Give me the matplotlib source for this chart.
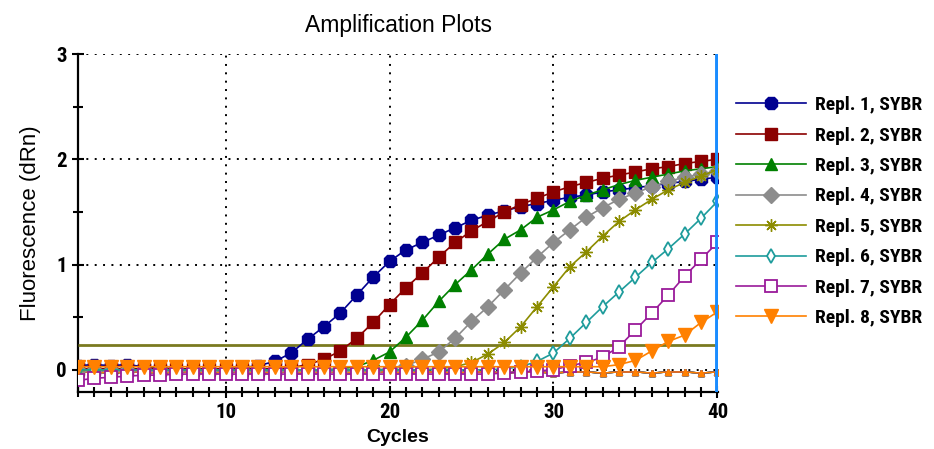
import matplotlib
matplotlib.use("Agg")
import matplotlib.pyplot as plt
from matplotlib.ticker import MultipleLocator

CYCLES = list(range(1, 41))

REPL1 = [0.04, 0.05, 0.04, 0.05, 0.03, 0.02, 0.01, 0.01, 0.01, 0.01,
         0.02, 0.04, 0.08, 0.16, 0.29, 0.41, 0.54, 0.71, 0.88, 1.03,
         1.14, 1.21, 1.28, 1.35, 1.42, 1.47, 1.51, 1.55, 1.58, 1.61,
         1.64, 1.66, 1.69, 1.71, 1.73, 1.75, 1.77, 1.79, 1.81, 1.83]
REPL2 = [0.01, 0.01, 0.01, 0.01, 0.01, 0.01, 0.01, 0.01, 0.01, 0.01,
         0.01, 0.01, 0.01, 0.02, 0.05, 0.10, 0.18, 0.30, 0.45, 0.62,
         0.78, 0.92, 1.07, 1.21, 1.32, 1.41, 1.50, 1.57, 1.63, 1.69,
         1.74, 1.78, 1.82, 1.85, 1.88, 1.91, 1.93, 1.96, 1.98, 2.00]
REPL3 = [0.00, 0.00, 0.00, 0.00, 0.00, 0.00, 0.00, 0.00, 0.00, 0.00,
         0.00, 0.00, 0.00, 0.00, 0.00, 0.00, 0.01, 0.03, 0.09, 0.17,
         0.31, 0.47, 0.65, 0.81, 0.95, 1.10, 1.24, 1.33, 1.45, 1.52,
         1.60, 1.66, 1.71, 1.76, 1.80, 1.83, 1.86, 1.89, 1.91, 1.93]
REPL4 = [0.00, 0.00, 0.00, 0.00, 0.00, 0.00, 0.00, 0.00, 0.00, 0.00,
         0.00, 0.00, 0.00, 0.00, 0.00, 0.00, 0.00, 0.00, 0.00, 0.01,
         0.04, 0.10, 0.17, 0.30, 0.46, 0.60, 0.76, 0.92, 1.07, 1.21,
         1.33, 1.45, 1.54, 1.62, 1.68, 1.74, 1.79, 1.83, 1.86, 1.89]
REPL5 = [0.00, 0.00, 0.00, 0.00, 0.00, 0.00, 0.00, 0.00, 0.00, 0.00,
         0.00, 0.00, 0.00, 0.00, 0.00, 0.00, 0.00, 0.00, 0.00, 0.00,
         0.00, 0.00, 0.01, 0.03, 0.07, 0.15, 0.26, 0.41, 0.60, 0.79,
         0.98, 1.12, 1.27, 1.41, 1.52, 1.62, 1.71, 1.78, 1.84, 1.90]
REPL6 = [0.00, 0.00, 0.00, 0.00, 0.00, 0.00, 0.00, 0.00, 0.00, 0.00,
         0.00, 0.00, 0.00, 0.00, 0.00, 0.00, 0.00, 0.00, 0.00, 0.00,
         0.00, 0.00, 0.00, 0.00, 0.00, 0.00, 0.01, 0.03, 0.08, 0.16,
         0.30, 0.45, 0.60, 0.74, 0.88, 1.02, 1.15, 1.29, 1.44, 1.60]
REPL7 = [-0.10, -0.08, -0.07, -0.06, -0.05, -0.05, -0.04, -0.04, -0.04, -0.04,
         -0.04, -0.04, -0.04, -0.04, -0.04, -0.04, -0.04, -0.04, -0.04, -0.04,
         -0.04, -0.04, -0.04, -0.04, -0.04, -0.04, -0.03, -0.02, -0.01, 0.00,
         0.04, 0.07, 0.12, 0.22, 0.38, 0.54, 0.71, 0.89, 1.05, 1.21]
REPL8 = [0.03, 0.03, 0.03, 0.03, 0.03, 0.03, 0.03, 0.03, 0.03, 0.03,
         0.03, 0.03, 0.03, 0.03, 0.03, 0.03, 0.03, 0.03, 0.03, 0.03,
         0.03, 0.03, 0.03, 0.03, 0.03, 0.03, 0.03, 0.03, 0.03, 0.03,
         0.03, 0.03, 0.03, 0.05, 0.09, 0.18, 0.27, 0.33, 0.45, 0.55]
# no-template wells, sitting on the baseline
NTC = [-0.02, -0.02, -0.03, -0.02, -0.02, -0.03, -0.02, -0.02, -0.03, -0.02,
       -0.02, -0.03, -0.02, -0.02, -0.03, -0.02, -0.02, -0.03, -0.02, -0.02,
       -0.03, -0.02, -0.02, -0.03, -0.02, -0.02, -0.03, -0.02, -0.02, -0.03,
       -0.02, -0.02, -0.03, -0.02, -0.02, -0.03, -0.02, -0.02, -0.03, -0.02]
THRESHOLD = 0.24

LABELS = [f"Repl. {i}, SYBR" for i in range(1, 9)]
SERIES = [REPL1, REPL2, REPL3, REPL4, REPL5, REPL6, REPL7, REPL8]
COLORS = ["#000090", "#8b0000", "#008000", "#8c8c8c",
          "#8c8c00", "#1e9c9c", "#9a1a9a", "#ff8000"]
MARKERS = ["8", "s", "^", "D", (8, 2, 0), "d", "s", "v"]
SIZES = [10, 9, 9, 8, 9, 7, 8, 10.5]
FILLED = [True, True, True, True, True, False, False, True]

NARROW = ["Liberation Sans Narrow", "DejaVu Sans Condensed", "Roboto Condensed",
          "Liberation Sans"]
SANS = ["Liberation Sans", "DejaVu Sans"]

fig = plt.figure(figsize=(9.34, 4.49), dpi=100)
ax = fig.add_axes([0.0835, 0.127, 0.6855, 0.7527])

for i, c in enumerate(COLORS):
    ax.plot(CYCLES, NTC, color=c, lw=1.0, marker="^", ms=4, zorder=2)

ax.hlines(THRESHOLD, 1, 40, color="#7a7a20", lw=2, zorder=3)

for ys, lab, c, m, s, f in zip(SERIES, LABELS, COLORS, MARKERS, SIZES, FILLED):
    ax.plot(CYCLES, ys, color=c, lw=1.2, marker=m, ms=s,
            mfc=c if f else "white", mec=c, mew=1.3 if not f else 1.0,
            label=lab, zorder=4)

ax.axvline(40, color="#1a8cff", lw=2.8, zorder=6)

ax.set_xlim(1, 40.05)
ax.set_ylim(-0.21, 3.0)
ax.xaxis.set_major_locator(MultipleLocator(10))
ax.xaxis.set_minor_locator(MultipleLocator(1))
ax.yaxis.set_major_locator(MultipleLocator(1))
ax.yaxis.set_minor_locator(MultipleLocator(0.5))
ax.tick_params(which="major", direction="inout", length=9, width=1.5)
ax.tick_params(which="minor", direction="inout", length=7, width=1.5)
ax.grid(True, which="major", color="black", lw=1.4, ls=(0, (1, 3.3)))
ax.set_axisbelow(True)
for s in ("top", "right"):
    ax.spines[s].set_visible(False)
for s in ("left", "bottom"):
    ax.spines[s].set_linewidth(1.6)

for t in ax.get_xticklabels() + ax.get_yticklabels():
    t.set_fontfamily(NARROW)
    t.set_fontweight("bold")
    t.set_fontsize(15)

ax.set_xlabel("Cycles", fontfamily=SANS, fontweight="bold", fontsize=14, labelpad=5)
ax.set_ylabel("Fluorescence (dRn)", fontfamily=SANS, fontsize=16, labelpad=11)
ax.set_title("Amplification Plots", fontfamily=SANS, fontsize=16.5, pad=16)

handles, labels = ax.get_legend_handles_labels()
fig.legend(handles, labels, loc="upper left", bbox_to_anchor=(0.788, 0.786),
           frameon=False, borderpad=0, borderaxespad=0, handlelength=3.6,
           handletextpad=0.45, labelspacing=0.64,
           prop={"family": NARROW, "weight": "bold", "size": 14})

fig.savefig("out.png", dpi=100)
